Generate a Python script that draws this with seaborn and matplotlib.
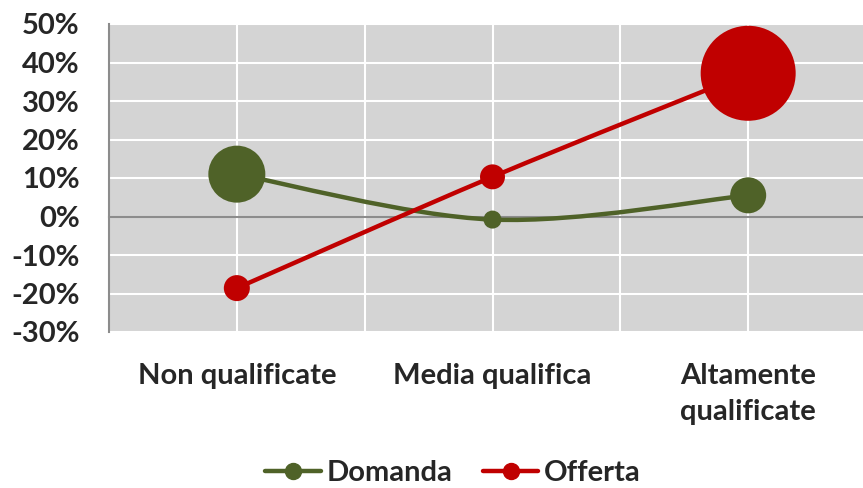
import numpy as np
import pandas as pd
import seaborn as sns
import matplotlib.pyplot as plt
from matplotlib.path import Path
from matplotlib.patches import PathPatch
from matplotlib.lines import Line2D

# Data
categorie = ['Non qualificate', 'Media qualifica', 'Altamente\nqualificate']
domanda = [0.110, -0.008, 0.055]
offerta = [-0.186, 0.103, 0.372]
# bubble weights (area, relative to largest = 100)
peso_domanda = [36.0, 3.6, 14.4]
peso_offerta = [7.5, 6.9, 100.0]
serie = ['Domanda', 'Offerta']
y_ticks = [-0.3, -0.2, -0.1, 0.0, 0.1, 0.2, 0.3, 0.4, 0.5]

colori = {'Domanda': '#4f6228', 'Offerta': '#c00000'}
GRIGIO = '#8c8c8c'
SFONDO = '#d4d4d4'
FS = 21
PESO_FONT = 'bold'

sns.set_style('white')
plt.rcParams['font.family'] = ['Lato', 'DejaVu Sans']

df = pd.DataFrame({
    'x': list(range(len(categorie))) * 2,
    'valore': domanda + offerta,
    'peso': peso_domanda + peso_offerta,
    'serie': ['Domanda'] * 3 + ['Offerta'] * 3,
})

fig = plt.figure(figsize=(8.63, 4.88), dpi=100)
ax = fig.add_axes([109 / 863, 156 / 488, 767 / 863, 308 / 488])
ax.set_facecolor(SFONDO)


def smooth_path(xs, ys):
    # excel-like smoothed line (catmull-rom as cubic bezier)
    pts = np.column_stack([xs, ys]).astype(float)
    ext = np.vstack([pts[0], pts, pts[-1]])
    verts = [pts[0]]
    codes = [Path.MOVETO]
    for i in range(1, len(ext) - 2):
        p0, p1, p2, p3 = ext[i - 1], ext[i], ext[i + 1], ext[i + 2]
        verts += [p1 + (p2 - p0) / 6, p2 - (p3 - p1) / 6, p2]
        codes += [Path.CURVE4] * 3
    return Path(verts, codes)


xs = np.arange(len(categorie))
for nome, vals in [('Domanda', domanda), ('Offerta', offerta)]:
    ax.add_patch(PathPatch(smooth_path(xs, vals), facecolor='none',
                           edgecolor=colori[nome], lw=3.2, zorder=3,
                           capstyle='round'))

s_max = (95 * 0.72) ** 2
sns.scatterplot(data=df, x='x', y='valore', hue='serie', palette=colori,
                size='peso', sizes=(0, s_max), size_norm=(0, 100),
                linewidth=0, alpha=1, legend=False, zorder=4, ax=ax)

ax.set_xlim(-0.5, 2.5)
ax.set_ylim(-0.3, 0.5)

# grid: white lines at categories and between them
ax.set_xticks(xs)
ax.set_xticks([0.5, 1.5], minor=True)
ax.set_yticks(y_ticks)
ax.set_yticklabels([f'{round(v * 100):d}%' for v in y_ticks], fontsize=FS,
                   fontweight=PESO_FONT)
ax.grid(True, which='major', color='white', lw=1.5)
for b in [0.5, 1.5]:
    ax.axvline(b, color='white', lw=1.5, zorder=0.1)
ax.set_axisbelow(True)
ax.tick_params(axis='x', which='major', length=0, labelbottom=False)
ax.tick_params(axis='x', which='minor', length=7, width=1.5, color=GRIGIO,
               direction='out')
ax.tick_params(axis='y', length=7, width=1.5, color=GRIGIO, pad=14)

for sp in ['top', 'right']:
    ax.spines[sp].set_visible(False)
ax.spines['bottom'].set_position(('data', 0))
ax.spines['bottom'].set_color(GRIGIO)
ax.spines['bottom'].set_linewidth(1.5)
ax.spines['left'].set_color(GRIGIO)
ax.spines['left'].set_linewidth(1.5)
ax.set_xlabel('')
ax.set_ylabel('')

sec = ax.secondary_xaxis(0)
sec.set_xticks(xs)
sec.set_xticklabels(categorie, fontsize=FS, fontweight=PESO_FONT,
                    linespacing=1.5)
sec.tick_params(length=0, pad=22)
sec.spines['bottom'].set_visible(False)

handles = [Line2D([0], [0], color=colori[n], lw=3.2, marker='o',
                  markersize=11.5, solid_capstyle='round') for n in serie]
fig.legend(handles, serie, loc='center', bbox_to_anchor=(453 / 863, 15 / 488),
           ncol=2, frameon=False, prop={'size': FS, 'weight': PESO_FONT},
           handlelength=1.9, handletextpad=0.2, columnspacing=1.05)

fig.savefig('out.png', dpi=100)
